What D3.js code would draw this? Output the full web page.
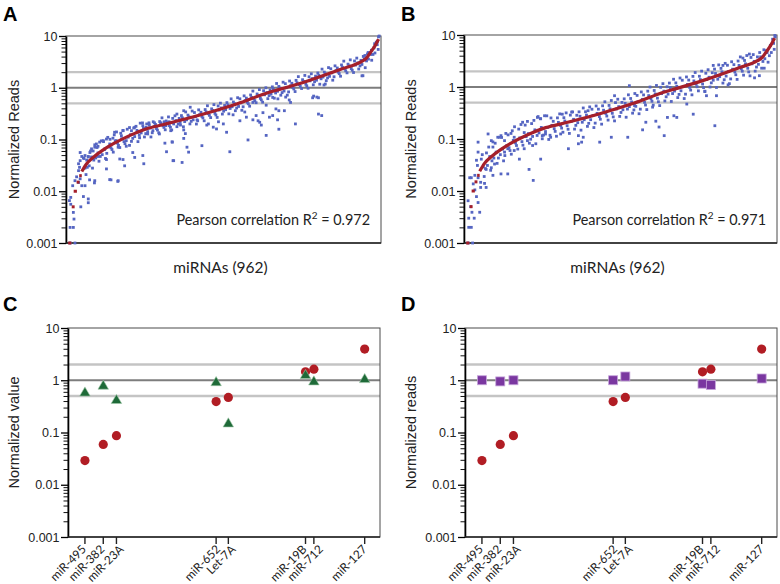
<!DOCTYPE html>
<html><head><meta charset="utf-8">
<script src="https://cdn.jsdelivr.net/npm/d3@7"></script>
<style>body{margin:0;background:#fff}</style>
</head><body>
<svg id="c" width="780" height="584"></svg>
<script>
// ---------------- DATA ----------------
// Reference (sorted) normalized reads of 962 miRNAs: continuous part (rank, value)
const refCurve = [[44,0.024],[59,0.034],[79,0.045],[110,0.063],[140,0.082],[191,0.119],[242,0.16],[293,0.193],[323,0.215],[419,0.31],[521,0.485],[622,0.82],[653,0.93],[742,1.37],[844,2.3],[905,3.2],[920,3.7],[933,4.8],[946,6.3],[958,8.7]];
// Discrete low-count steps of the reference: [firstRank, lastRank, value]
const refSteps = [[2,12,0.001],[13,22,0.005],[19,29,0.01],[28,37,0.015],[36,44,0.02]];

// Panel A comparison sample (rank, value)
const sampleA = [
[8,0.001],[23,0.001],[8,0.002],[18,0.002],[20,0.0029],[18,0.0039],[10,0.0056],[6,0.0066],[10,0.0076],[41,0.005],[49,0.0079],[64,0.0071],[64,0.006],[16,0.0128],[23,0.016],[28,0.019],[34,0.0148],[39,0.0174],[44,0.0128],[54,0.0128],[84,0.016],[130,0.0168],[156,0.016],[120,0.027],[34,0.025],[37,0.029],[34,0.034],[39,0.039],[39,0.056],[44,0.047],[49,0.044],[54,0.049],[59,0.04],[64,0.047],[69,0.056],[74,0.066],[79,0.06],[84,0.071],[89,0.082],[94,0.074],[99,0.089],[110,0.095],[115,0.066],[120,0.102],[130,0.082],[140,0.106],[145,0.138],[150,0.095],[156,0.071],[161,0.042],[171,0.041],[176,0.031],[120,0.041],[94,0.047],[79,0.045],[166,0.118],[171,0.148],[181,0.095],[191,0.077],[201,0.056],[207,0.045],[232,0.049],[197,0.148],[207,0.172],[217,0.138],[222,0.108],[232,0.185],[242,0.172],[247,0.128],[252,0.19],[263,0.148],[268,0.21],[273,0.178],[283,0.128],[288,0.21],[298,0.22],[303,0.185],[313,0.22],[318,0.148],[323,0.089],
[68,0.0166],[83,0.0145],[134,0.0166],[155,0.0155],[235,0.034],[325,0.039],[353,0.036],[305,0.058],[300,0.085],[500,0.058],[556,0.098],[612,0.12],[651,0.158],[702,0.2],[773,0.31],[755,0.64],[773,0.64],[907,1.7],[790,1.13],[683,0.58],[429,0.19],[399,0.24],[465,0.22],[510,0.3],[546,0.34],[571,0.24],[647,0.24],[668,0.36],
[337,0.31],[358,0.36],[378,0.42],[327,0.2],[348,0.19],[358,0.153],[363,0.13],[322,0.09],[358,0.105],[368,0.071],[373,0.057],[327,0.039],[414,0.076],[490,0.138],[434,0.2],[449,0.173],[459,0.16],[480,0.2],[531,0.23],[581,0.29],[587,0.23],[592,0.215],[597,0.19],[551,0.27],[622,0.27],[632,0.29],[602,0.33],[642,0.39],[632,0.65],[648,0.61],[612,0.46],[571,0.52],
[672,0.66],[687,0.52],[651,0.36],[758,0.69],[768,0.66],[783,0.29],[794,1.18],[910,1.71],[946,7.1],[936,5.3],[926,4.8],[916,4.2],
[51,.043],[54,.028],[57,.021],[61,.029],[64,.046],[67,.031],[71,.06],[74,.046],[77,.028],[81,.04],[84,.079],[87,.044],[91,.07],[94,.055],[97,.038],[101,.047],[104,.094],[107,.051],[111,.091],[114,.064],[117,.043],[121,.054],[124,.11],[127,.072],[131,.101],[134,.069],[137,.064],[141,.057],[144,.123],[147,.094],[151,.14],[154,.085],[157,.077],[161,.07],[164,.132],[167,.103],[171,.15],[174,.091],[177,.083],[181,.074],[184,.158],[187,.111],[191,.17],[194,.124],[197,.092],[201,.105],[204,.167],[207,.114],[211,.18],[214,.15],[217,.091],[221,.121],[224,.207],[227,.134],[231,.209],[234,.164],[237,.112],[241,.13],[244,.2],[247,.142],[251,.21],[254,.167],[257,.112],
[261,.135],[264,.22],[267,.177],[271,.196],[274,.163],[277,.152],[281,.135],[284,.222],[287,.2],[291,.262],[294,.184],[297,.171],[301,.154],[304,.228],[307,.212],[311,.273],[314,.185],[317,.172],[321,.153],[324,.256],[327,.213],[331,.287],[334,.232],[337,.177],[341,.199],[344,.256],[347,.213],[351,.29],[354,.262],[357,.176],[361,.222],[364,.341],[367,.24],[371,.296],[374,.275],[377,.2],[381,.224],[384,.355],[387,.24],[391,.332],[394,.277],[397,.199],[401,.23],[404,.374],[407,.302],[411,.336],[414,.279],[417,.261],[421,.23],[424,.379],[427,.342],[431,.449],[434,.315],[437,.293],[441,.265],[444,.391],[447,.364],[451,.472],[454,.32],[457,.298],[461,.267],[464,.445],[467,.371],[471,.504],[474,.407],[477,.31],[481,.352],[484,.454],[487,.377],[491,.516],[494,.465],[497,.313],[501,.398],[504,.61],[507,.429],[511,.531],[514,.494],[517,.36],[521,.406],[524,.642],[527,.435],[531,.612],[534,.51],[537,.367],[541,.429],[544,.697],[547,.563],[551,.631],[554,.524],[557,.49],[561,.44],[564,.725],[567,.653],[571,.863],[574,.606],[577,.563],[581,.514],[584,.758],[587,.705],[591,.922],[594,.624],[597,.582],[601,.526],[604,.877],[607,.731],[611,1.0],[614,.809],[617,.616],[621,.705],[624,.907],[627,.753],[631,1.04],[634,.935],[637,.629],[641,.792],[644,1.21],[647,.854],[651,1.06],[654,.984],[657,.718],[661,.806],[664,1.28],[667,.864],[671,1.2],[674,1.0],[677,.72],[681,.832],[684,1.35],[687,1.09],[691,1.22],[694,1.01],[697,.948],[701,.844],[704,1.39],[707,1.25],[711,1.64],[714,1.15],[717,1.07],[721,.967],[724,1.43],[727,1.33],[731,1.73],[734,1.17],[737,1.09],[741,.979],[744,1.63],[747,1.36],[751,1.86],[754,1.5],[757,1.14],[761,1.31],[764,1.68],[767,1.4],[771,1.93],[774,1.74],[777,1.17],[781,1.49],[784,2.29],[787,1.61],[791,2.01],[794,1.87],[797,1.37],[801,1.55],[804,2.45],[807,1.66],[811,2.33],[814,1.94],[817,1.4],[821,1.63],[824,2.65],[827,2.14],[831,2.41],[834,2.0],[837,1.87],[841,1.67],[844,2.76],[847,2.49],[851,3.27],[854,2.3],[857,2.13],[861,1.94],[864,2.86],[867,2.66],[871,3.46],[874,2.34],[877,2.18],[881,1.97],[884,3.29],[887,2.74],[891,3.74],[894,3.02],[897,2.3],[901,2.64],[904,3.39],[907,2.82],[911,4.03],[914,3.63],[917,2.44],[921,3.3],[924,4.5],[927,3.58],[931,4.7],[934,4.4],[937,3.4],[941,4.4],[944,5.9],[947,4.7],[951,7.6],[954,6.8],[957,5.5],[958,9.6],[960,10],[955,7.9]
];

// Panel B comparison sample (rank, value)
const sampleB = [
[8,0.001],[22,0.001],[10,0.002],[18,0.002],[10,0.003],[27,0.003],[20,0.0039],[16,0.005],[8,0.0065],[44,0.0039],[39,0.006],[34,0.0078],[47,0.0117],[29,0.0105],[24,0.0137],[64,0.0117],[47,0.0147],[39,0.018],[29,0.02],[18,0.018],[13,0.018],[59,0.014],[85,0.02],[110,0.0213],[131,0.0213],[210,0.016],[197,0.026],[167,0.041],[233,0.041],[80,0.028],[90,0.033],[64,0.026],[39,0.087],[39,0.056],[34,0.039],[37,0.031],[49,0.041],[70,0.125],[80,0.093],[85,0.07],[100,0.108],[110,0.116],[121,0.093],[141,0.128],[151,0.108],[177,0.21],[151,0.06],[131,0.065],[121,0.056],[182,0.133],[192,0.093],[208,0.075],[223,0.26],[233,0.245],[238,0.116],[248,0.125],[264,0.108],[300,0.3],[295,0.125],[319,0.065],[350,0.081],[360,0.087],[365,0.108],[350,0.116],[416,0.087],[452,0.108],[503,0.108],[559,0.21],[549,0.15],[600,0.17],[616,0.116],[590,0.22],[626,0.26],[646,0.28],[508,1.06],[462,0.68],[380,0.35],[329,0.33],[580,0.41],[524,0.44],[655,0.26],[706,0.3],[773,0.18],[686,0.47],[747,0.68],[778,0.68],[814,1.1],[742,0.83],[911,1.65],[926,2.3],[896,1.5],[880,4.3],[860,3.6],[798,2.6],[768,2.6],
[52,.05],[55,.029],[58,.019],[62,.027],[65,.054],[68,.031],[72,.07],[75,.046],[78,.025],[82,.038],[85,.088],[88,.043],[92,.083],[95,.056],[98,.034],[102,.043],[105,.108],[108,.05],[112,.107],[115,.064],[118,.038],[122,.048],[125,.128],[128,.075],[132,.12],[135,.068],[138,.06],[142,.051],[145,.144],[148,.094],[152,.172],[155,.084],[158,.075],[162,.064],[165,.155],[168,.105],[172,.19],[175,.089],[178,.076],[182,.065],[185,.185],[188,.111],[192,.218],[195,.127],[198,.083],[202,.099],[205,.198],[208,.112],[212,.228],[215,.15],[218,.081],[222,.117],[225,.27],[228,.131],[232,.246],[235,.167],[238,.101],[242,.119],[245,.28],[248,.139],[252,.279],[255,.167],[258,.098],
[262,.118],[265,.254],[268,.183],[272,.219],[275,.158],[278,.14],[282,.113],[285,.255],[288,.209],[292,.304],[295,.181],[298,.162],[302,.135],[305,.257],[308,.222],[312,.318],[315,.18],[318,.154],[322,.128],[325,.288],[328,.217],[332,.332],[335,.239],[338,.155],[342,.183],[345,.286],[348,.206],[352,.333],[355,.274],[358,.148],[362,.21],[365,.395],[368,.235],[372,.334],[375,.288],[378,.175],[382,.2],[385,.414],[388,.235],[392,.374],[395,.283],[398,.166],[402,.202],[405,.432],[408,.311],[412,.375],[415,.27],[418,.24],[422,.193],[425,.435],[428,.358],[432,.52],[435,.309],[438,.276],[442,.231],[445,.442],[448,.381],[452,.55],[455,.312],[458,.266],[462,.223],[465,.501],[468,.378],[472,.582],[475,.419],[478,.272],[482,.324],[485,.506],[488,.365],[492,.592],[495,.486],[498,.262],[502,.376],[505,.707],[508,.42],[512,.601],[515,.517],[518,.314],[522,.362],[525,.749],[528,.425],[532,.689],[535,.52],[538,.306],[542,.375],[545,.804],[548,.579],[552,.704],[555,.507],[558,.45],[562,.368],[565,.832],[568,.683],[572,1.0],[575,.594],[578,.531],[582,.448],[585,.857],[588,.738],[592,1.07],[595,.61],[598,.52],[602,.439],[605,.987],[608,.746],[612,1.16],[615,.832],[618,.539],[622,.648],[625,1.01],[628,.729],[632,1.19],[635,.978],[638,.527],[642,.748],[645,1.41],[648,.836],[652,1.2],[655,1.03],[658,.626],[662,.72],[665,1.49],[668,.845],[672,1.35],[675,1.02],[678,.6],[682,.728],[685,1.56],[688,1.12],[692,1.36],[695,.981],[698,.872],[702,.707],[705,1.6],[708,1.31],[712,1.9],[715,1.13],[718,1.01],[722,.843],[725,1.61],[728,1.39],[732,2.02],[735,1.14],[738,.975],[742,.816],[745,1.84],[748,1.39],[752,2.15],[755,1.54],[758,1.0],[762,1.2],[765,1.88],[768,1.35],[772,2.21],[775,1.82],[778,.98],[782,1.41],[785,2.66],[788,1.58],[792,2.28],[795,1.96],[798,1.19],[802,1.38],[805,2.85],[808,1.62],[812,2.62],[815,1.98],[818,1.16],[822,1.43],[825,3.06],[828,2.2],[832,2.69],[835,1.94],[838,1.72],[842,1.4],[845,3.16],[848,2.6],[852,3.79],[855,2.25],[858,2.01],[862,1.69],[865,3.24],[868,2.79],[872,4.03],[875,2.29],[878,1.95],[882,1.64],[885,3.7],[888,2.79],[892,4.2],[895,3.11],[898,2.02],[902,2.42],[905,3.79],[908,2.73],[912,4.6],[915,3.8],[918,2.3],[922,3.1],[925,5.2],[928,3.5],[932,5.0],[935,4.6],[938,3.0],[942,4.0],[945,6.3],[948,4.6],[952,8.3],[955,6.9],[957,5.3],[959,9.8],[960,9.2]
];

// Panels C / D
const mirNames = ["miR-495","miR-382","miR-23A","miR-652","Let-7A","miR-19B","miR-712","miR-127"];
const mirRanks = [48,105,146,456,494,734,760,918];
const refReads = [0.029,0.059,0.087,0.39,0.47,1.45,1.63,3.95];
const qpcrValues = [0.57,0.77,0.41,0.90,0.146,1.23,0.93,1.03];
const normReads = [1.0,0.95,1.0,1.0,1.18,0.86,0.81,1.08];

const yTickValues = [0.001,0.01,0.1,1,10];
const yTickLabels = ["0.001","0.01","0.1","1","10"];
const refLevels = [2,0.5,1];
const rankMax = 961;

// ---------------- LAYOUT ----------------
const L = {
  A:{x0:66,x1:381,y0:36,y1:243,letterX:3,letterY:21,titleX:14},
  B:{x0:464,x1:777,y0:35,y1:243,letterX:401,letterY:21,titleX:411},
  C:{x0:68,x1:380,y0:328,y1:537,letterX:3,letterY:311,titleX:14},
  D:{x0:465,x1:777,y0:328,y1:537,letterX:401,letterY:311,titleX:411}
};
// horizontal nudges (px) of the rotated category labels, to keep them apart
const labelNudge = [1,1,7,4,7,1,9,2];
const ARIAL = "'Liberation Sans', Arial, sans-serif";
const HUMAN = "Lato, 'Open Sans', sans-serif";
const svg = d3.select("#c");

function yS(p){ return d3.scaleLog().domain([0.001,10]).range([p.y1,p.y0]); }
function xS(p){ return d3.scaleLinear().domain([0,rankMax]).range([p.x0+1.5,p.x1-1.5]); }

function frame(key, title){
  const p = L[key], y = yS(p), g = svg.append("g");
  g.selectAll("line.ref").data(refLevels).join("line")
    .attr("x1",p.x0).attr("x2",p.x1).attr("y1",d=>y(d)).attr("y2",d=>y(d))
    .attr("stroke",d=>d===1?"#7d7d7d":"#c4c4c4").attr("stroke-width",d=>d===1?2:2.4);
  g.append("rect").attr("x",p.x0).attr("y",p.y0).attr("width",p.x1-p.x0).attr("height",p.y1-p.y0)
    .attr("fill","none").attr("stroke","#4a4a4a").attr("stroke-width",1);
  const minors = [];
  yTickValues.slice(0,-1).forEach(d=>{ for(let k=2;k<10;k++) minors.push(d*k); });
  g.append("g").attr("transform",`translate(${p.x0},0)`)
    .call(d3.axisLeft(y).tickValues(minors).tickSize(4.5).tickSizeOuter(0).tickFormat(""))
    .call(s=>{ s.select(".domain").remove(); s.selectAll("line").attr("stroke","#111").attr("stroke-width",1); });
  g.append("g").attr("transform",`translate(${p.x0},0)`)
    .call(d3.axisLeft(y).tickValues(yTickValues).tickSize(7).tickSizeOuter(0).tickPadding(1.5)
      .tickFormat((d,i)=>yTickLabels[i]))
    .call(s=>{
      s.select(".domain").attr("stroke","#000").attr("stroke-width",1.6);
      s.selectAll("line").attr("stroke","#000").attr("stroke-width",1.3);
      s.selectAll("text").attr("font-family",ARIAL).attr("font-size",12.5).attr("fill","#222");
    });
  g.append("line").attr("x1",p.x0).attr("x2",p.x1).attr("y1",p.y1).attr("y2",p.y1).attr("stroke","#222").attr("stroke-width",1.3);
  g.append("text").attr("transform",`translate(${p.titleX},${(p.y0+p.y1)/2}) rotate(-90)`)
    .attr("text-anchor","middle").attr("dy","0.35em").attr("font-family",ARIAL).attr("font-size",14.5).attr("fill","#222").text(title);
  svg.append("text").attr("x",p.letterX).attr("y",p.letterY).attr("font-family",ARIAL).attr("font-weight","bold")
    .attr("font-size",20).attr("fill","#000").text(key);
  return {g,x:xS(p),y};
}

function scatterPanel(key, sample, r2){
  const p = L[key];
  const {g,x,y} = frame(key,"Normalized Reads");
  g.append("g").selectAll("rect").data(sample).join("rect")
    .attr("x",d=>x(d[0])-1.4).attr("y",d=>y(d[1])-1.4).attr("width",2.8).attr("height",2.8)
    .attr("fill","#5565c2");
  g.append("g").selectAll("line").data(refSteps).join("line")
    .attr("x1",d=>x(d[0])).attr("x2",d=>x(d[1])).attr("y1",d=>y(d[2])).attr("y2",d=>y(d[2]))
    .attr("stroke","#a51f2a").attr("stroke-width",3);
  g.append("path").datum(refCurve)
    .attr("d",d3.line().x(d=>x(d[0])).y(d=>y(d[1])).curve(d3.curveMonotoneX))
    .attr("fill","none").attr("stroke","#a51f2a").attr("stroke-width",3.2);
  const cx = (p.x0+p.x1)/2;
  g.append("text").attr("x",cx-3).attr("y",273).attr("text-anchor","middle")
    .attr("font-family",HUMAN).attr("font-size",15.5).attr("fill","#222").text("miRNAs (962)");
  const t = g.append("text").attr("x",p.x1-11).attr("y",p.y1-18.5).attr("text-anchor","end")
    .attr("font-family",HUMAN).attr("font-size",14.4).attr("fill","#222");
  t.append("tspan").text("Pearson correlation R");
  t.append("tspan").attr("dy",-6).attr("font-size",10).text("2");
  t.append("tspan").attr("dy",6).text(" = "+r2);
}

function mirPanel(key, title, showSquares){
  const p = L[key];
  const {g,x,y} = frame(key,title);
  g.append("g").selectAll("line").data(mirRanks).join("line")
    .attr("x1",d=>x(d)).attr("x2",d=>x(d)).attr("y1",p.y1).attr("y2",p.y1+7)
    .attr("stroke","#222").attr("stroke-width",1.4);
  g.append("g").selectAll("text").data(mirNames).join("text")
    .attr("transform",(d,i)=>`translate(${x(mirRanks[i])+labelNudge[i]+1},${p.y1+13})rotate(-45)`)
    .attr("text-anchor","end").attr("font-family",HUMAN).attr("font-size",11.8).attr("fill","#222").text(d=>d);
  g.append("g").selectAll("circle").data(refReads).join("circle")
    .attr("cx",(d,i)=>x(mirRanks[i])).attr("cy",d=>y(d)).attr("r",4.6).attr("fill","#b11d24");
  if(!showSquares){
    g.append("g").selectAll("path").data(qpcrValues).join("path")
      .attr("transform",(d,i)=>`translate(${x(mirRanks[i])},${y(d)})`)
      .attr("d",d3.symbol(d3.symbolTriangle,48)).attr("fill","#1e6a38").attr("stroke","#9fc7a8").attr("stroke-width",0.6);
  } else {
    g.append("g").selectAll("rect").data(normReads).join("rect")
      .attr("x",(d,i)=>x(mirRanks[i])-4.5).attr("y",d=>y(d)-4.5).attr("width",9).attr("height",9)
      .attr("fill","#7a37a0").attr("stroke","#c5a3da").attr("stroke-width",0.8);
  }
}

scatterPanel("A", sampleA, "0.972");
scatterPanel("B", sampleB, "0.971");
mirPanel("C","Normalized value",false);
mirPanel("D","Normalized reads",true);
</script>
</body></html>
